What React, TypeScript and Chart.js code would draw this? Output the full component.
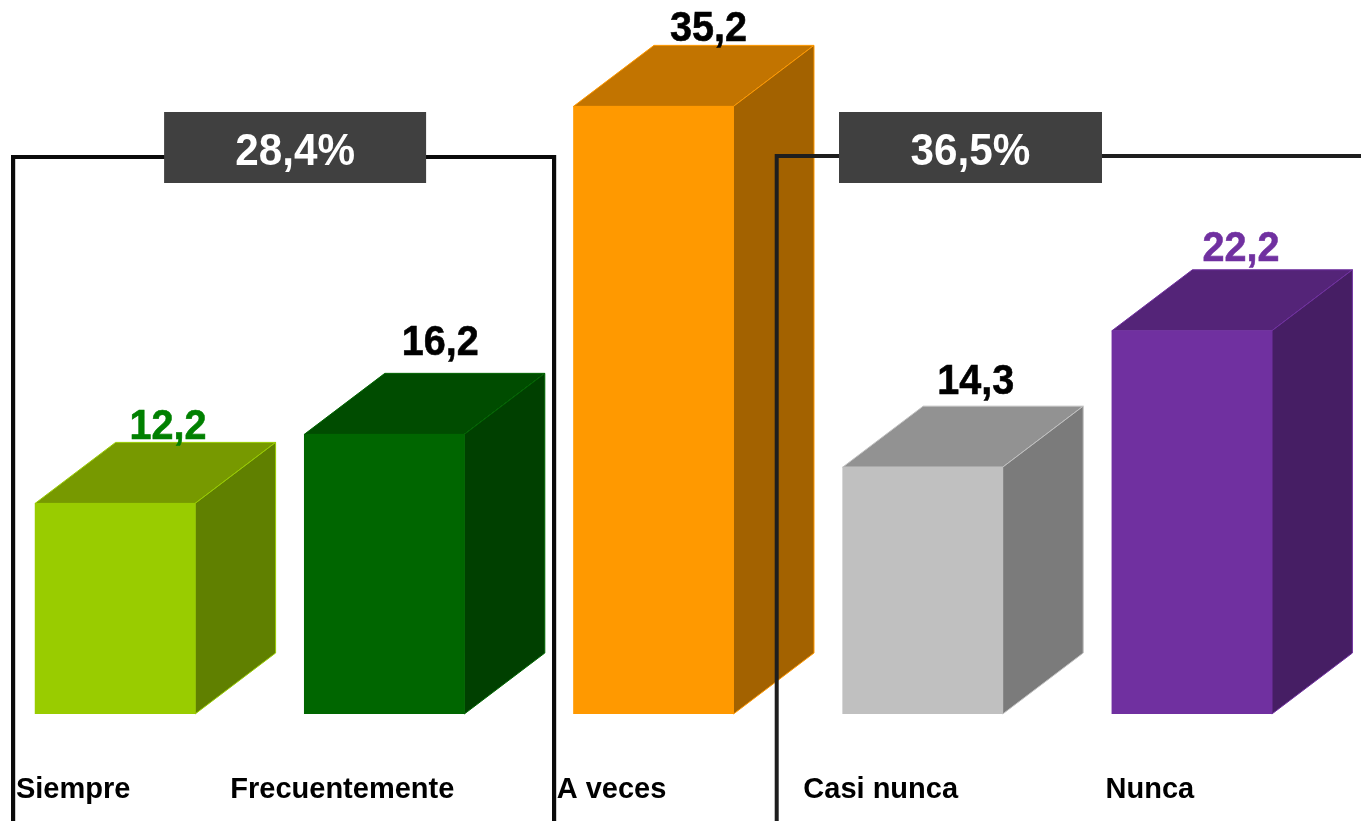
import React, { useEffect, useRef } from "react";
import { Chart, registerables } from "chart.js";

Chart.register(...registerables);

const categories = ["Siempre", "Frecuentemente", "A veces", "Casi nunca", "Nunca"];
const values = [12.2, 16.2, 35.2, 14.3, 22.2];
const valueLabels = ["12,2", "16,2", "35,2", "14,3", "22,2"];
const frontColors = ["#99CC00", "#006600", "#FF9900", "#C0C0C0", "#7030A0"];
const topColors = ["#779900", "#004C00", "#C27400", "#929292", "#542478"];
const sideColors = ["#608000", "#004000", "#A36200", "#7B7B7B", "#461E64"];
const labelColors = ["#008000", "#000000", "#000000", "#000000", "#7030A0"];
const labelShiftX = [53, 56, 55, 53, 49];
const labelLift = [3, 18, 4, 12, 9];
const groupLabels = ["28,4%", "36,5%"];

const FONT = '"Liberation Sans", Arial, sans-serif';
const DEPTH_X = 80.5;
const DEPTH_Y = 61;
const PAGE_OFFSET = 20; // canvas starts 20px left of the page

const poly = (ctx: CanvasRenderingContext2D, pts: number[][], fill: string, stroke: string) => {
  ctx.beginPath();
  pts.forEach((p, i) => (i ? ctx.lineTo(p[0], p[1]) : ctx.moveTo(p[0], p[1])));
  ctx.closePath();
  ctx.fillStyle = fill;
  ctx.fill();
  ctx.lineWidth = 1;
  ctx.strokeStyle = stroke;
  ctx.stroke();
};

const squeezedText = (
  ctx: CanvasRenderingContext2D,
  text: string,
  x: number,
  y: number,
  scaleX: number,
  stroke: number
) => {
  ctx.save();
  ctx.translate(x, y);
  ctx.scale(scaleX, 1);
  ctx.fillText(text, 0, 0);
  if (stroke > 0) {
    ctx.lineWidth = stroke;
    ctx.strokeStyle = ctx.fillStyle as string;
    ctx.strokeText(text, 0, 0);
  }
  ctx.restore();
};

const cube3d = {
  id: "cube3d",
  beforeDatasetsDraw(chart: any) {
    const ctx = chart.ctx as CanvasRenderingContext2D;
    const meta = chart.getDatasetMeta(0);
    ctx.save();
    meta.data.forEach((bar: any, i: number) => {
      const props = bar.getProps(["x", "y", "base", "width"], true);
      const l = props.x - props.width / 2;
      const r = props.x + props.width / 2;
      const t = props.y;
      const b = props.base;
      poly(ctx, [[l, t], [l + DEPTH_X, t - DEPTH_Y], [r + DEPTH_X, t - DEPTH_Y], [r, t]], topColors[i], frontColors[i]);
      poly(ctx, [[r, t], [r + DEPTH_X, t - DEPTH_Y], [r + DEPTH_X, b - DEPTH_Y], [r, b]], sideColors[i], frontColors[i]);
    });
    ctx.restore();
  },
  afterDatasetsDraw(chart: any) {
    const ctx = chart.ctx as CanvasRenderingContext2D;
    const meta = chart.getDatasetMeta(0);
    ctx.save();
    // value labels
    ctx.font = `bold 43px ${FONT}`;
    ctx.textAlign = "center";
    ctx.textBaseline = "alphabetic";
    meta.data.forEach((bar: any, i: number) => {
      const props = bar.getProps(["x", "y"], true);
      ctx.fillStyle = labelColors[i];
      squeezedText(ctx, valueLabels[i], props.x + labelShiftX[i], props.y - DEPTH_Y - labelLift[i], 0.92, 0.6);
    });
    // group brackets
    const xs = chart.scales.x;
    const bottom = chart.height + 5;
    const lineY = 157;
    ctx.strokeStyle = "#0A0A0A";
    ctx.lineWidth = 4.2;
    ctx.lineJoin = "miter";
    const x0 = xs.getPixelForValue(0);
    const x3 = xs.getPixelForValue(3);
    ctx.beginPath();
    ctx.moveTo(x0 - 102, bottom);
    ctx.lineTo(x0 - 102, lineY);
    ctx.lineTo(x0 + 439, lineY);
    ctx.lineTo(x0 + 439, bottom);
    ctx.stroke();
    ctx.strokeStyle = "#1E1E1E";
    ctx.lineWidth = 4;
    ctx.beginPath();
    ctx.moveTo(x3 - 146, bottom);
    ctx.lineTo(x3 - 146, lineY - 1);
    ctx.lineTo(chart.width + 5, lineY - 1);
    ctx.stroke();
    // group boxes
    const boxes = [
      { left: x0 + 49, width: 262 },
      { left: x3 - 83.7, width: 263 },
    ];
    boxes.forEach((box, i) => {
      ctx.fillStyle = "#404040";
      ctx.fillRect(box.left, 112, box.width, 71);
      ctx.fillStyle = "#FFFFFF";
      ctx.font = `bold 44px ${FONT}`;
      ctx.textBaseline = "alphabetic";
      squeezedText(ctx, groupLabels[i], box.left + box.width / 2, 165, 0.96, 0);
    });
    ctx.restore();
  },
};

export default function App() {
  const ref = useRef<HTMLCanvasElement>(null);
  useEffect(() => {
    const chart = new Chart(ref.current as HTMLCanvasElement, {
      type: "bar",
      data: {
        labels: categories,
        datasets: [
          {
            data: values,
            backgroundColor: frontColors,
            borderWidth: 0,
            barThickness: 160,
          },
        ],
      },
      plugins: [cube3d],
      options: {
        responsive: false,
        animation: false,
        layout: { padding: { top: 23.5, right: 34.5, bottom: 0, left: 0.5 } },
        plugins: { legend: { display: false }, title: { display: false }, tooltip: { enabled: false } },
        scales: {
          x: {
            grid: { display: false, drawTicks: false },
            border: { display: false },
            afterFit(scale: any) {
              scale.height = 107;
            },
            ticks: {
              color: "#000000",
              font: { family: FONT, size: 29, weight: "bold" },
              padding: 59,
              labelOffset: -42,
              autoSkip: false,
              maxRotation: 0,
              minRotation: 0,
            },
          },
          y: { display: false, min: 0, max: 40 },
        },
      },
    } as any);
    return () => chart.destroy();
  }, []);
  return (
    <canvas
      ref={ref}
      width={1381}
      height={821}
      style={{ position: "absolute", left: -PAGE_OFFSET, top: 0, width: 1381, height: 821, display: "block" }}
    />
  );
}
